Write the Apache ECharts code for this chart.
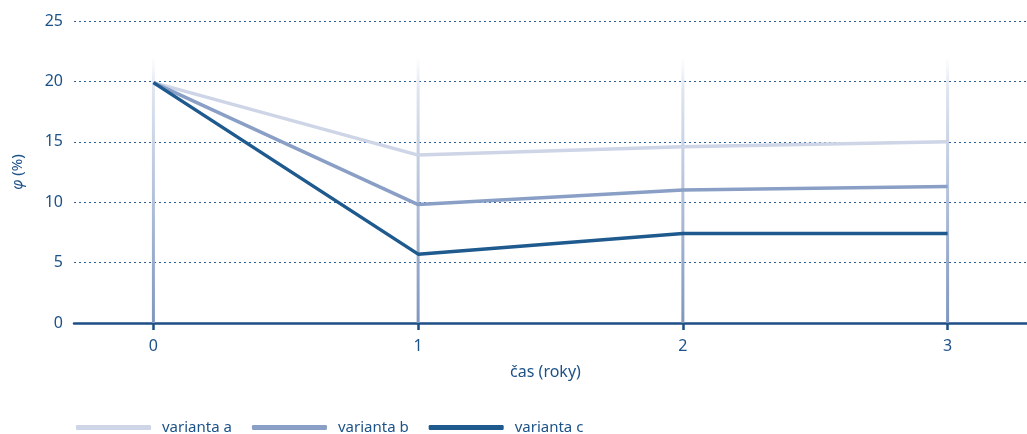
<!DOCTYPE html>
<html><head><meta charset="utf-8">
<script src="https://cdn.jsdelivr.net/npm/echarts@6/dist/echarts.min.js"></script>
<style>html,body{margin:0;padding:0;background:#fff}#c{width:1027px;height:434px}</style>
</head><body><div id="c"></div>
<script>
var years = [0, 1, 2, 3];
var variantA = [19.9, 13.9, 14.6, 15.0];
var variantB = [19.9, 9.8, 11.0, 11.3];
var variantC = [19.9, 5.7, 7.4, 7.4];
var seriesNames = ['varianta a', 'varianta b', 'varianta c'];
var guideTop = 22;

var txt = '#1d5288';
var font = '"Noto Sans", sans-serif';
var fs = 15;
function pairs(vals){ return years.map(function(x,i){ return [x, vals[i]]; }); }

var chart = echarts.init(document.getElementById('c'));
chart.setOption({
  animation: false,
  textStyle: {fontFamily: font, color: txt},
  grid: {left: 74, right: 0, top: 21, bottom: 111, containLabel: false, outerBoundsMode: 'none'},
  xAxis: {
    type: 'value', min: -0.3, max: 3.3,
    name: 'čas (roky)', nameLocation: 'middle', nameGap: 41,
    nameTextStyle: {fontSize: 16, color: txt, fontFamily: font, padding: [0, 10, 0, 0]},
    axisLine: {show: true, lineStyle: {color: '#1d4f86', width: 2.5}},
    axisTick: {show: true, customValues: years, length: 7, inside: false,
      lineStyle: {color: '#1d4f86', width: 2.5}},
    axisLabel: {fontSize: 16, color: txt, margin: 15, customValues: years},
    splitLine: {show: false}
  },
  yAxis: {
    type: 'value', min: 0, max: 25, interval: 5,
    name: '{i|φ} (%)', nameLocation: 'middle', nameGap: 49, nameRotate: 90,
    nameTextStyle: {fontSize: fs, color: txt, fontFamily: font,
      rich: {i: {fontStyle: 'italic', fontSize: fs, color: txt, fontFamily: font}}},
    axisLine: {show: false}, axisTick: {show: false},
    axisLabel: {fontSize: 16, color: txt, margin: 11},
    splitLine: {show: true, lineStyle: {color: '#2b5f97', type: [2, 3], width: 1}}
  },
  legend: {
    left: 76, top: 420, padding: 0, itemWidth: 75, itemHeight: 5, itemGap: 20,
    icon: 'roundRect',
    textStyle: {fontSize: fs, color: txt, fontFamily: font, padding: [0,0,0,6]},
    data: seriesNames
  },
  series: [
    {
      type: 'custom', silent: true, z: 1,
      data: years.map(function(x){ return [x, guideTop]; }),
      renderItem: function(params, api){
        var top = api.coord([api.value(0), api.value(1)]);
        var bot = api.coord([api.value(0), 0]);
        return {type: 'rect', shape: {x: top[0]-1.5, y: top[1], width: 3, height: bot[1]-top[1]},
          style: {fill: new echarts.graphic.LinearGradient(0,0,0,1,[
            {offset:0, color:'rgba(225,230,241,0)'},
            {offset:0.12, color:'#dfe5f0'},
            {offset:1, color:'#7f96bf'}])}};
      }
    },
    {name: seriesNames[0], type: 'line', data: pairs(variantA), symbol: 'none', z: 3,
     lineStyle: {color: '#cdd5e6', width: 3.5}, itemStyle: {color: '#cdd5e6'}},
    {name: seriesNames[1], type: 'line', data: pairs(variantB), symbol: 'none', z: 4,
     lineStyle: {color: '#8a9fc5', width: 3.5}, itemStyle: {color: '#8a9fc5'}},
    {name: seriesNames[2], type: 'line', data: pairs(variantC), symbol: 'none', z: 5,
     lineStyle: {color: '#1f5a8f', width: 3.5}, itemStyle: {color: '#1f5a8f'}}
  ]
});
</script></body></html>
